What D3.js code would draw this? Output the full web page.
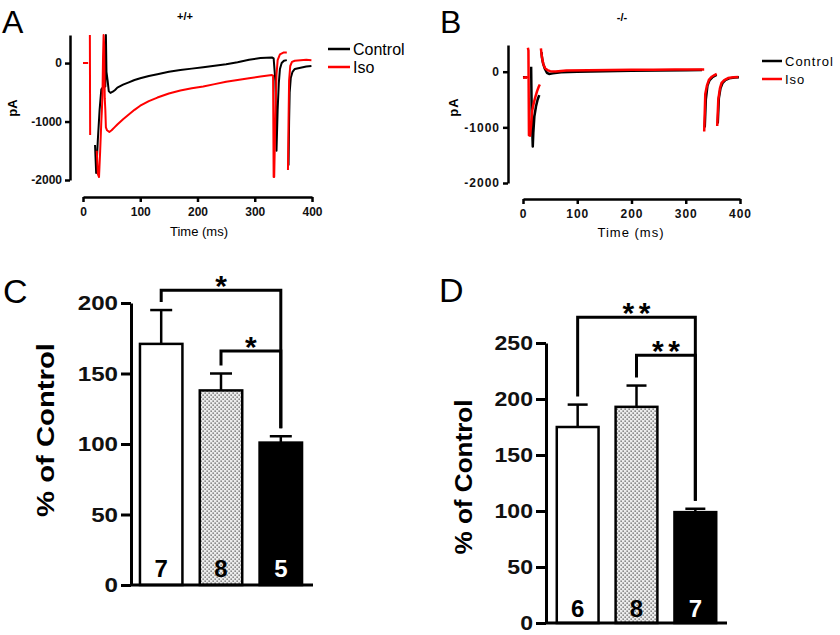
<!DOCTYPE html>
<html lang="en">
<head>
<meta charset="UTF-8">
<title>Iso effect on current</title>
<script src="https://d3js.org/d3.v7.min.js"></script>
<style>
    body { margin: 0; background: #fff; }
    svg { display: block; font-family: "Liberation Sans", Arial, sans-serif; }
</style>
</head>
<body>
<svg id="fig" width="840" height="635"></svg>
<script>

// ---- data ----
const timeTicks = [0, 100, 200, 300, 400];
const currentTicks = [0, -1000, -2000];
const legendLabels = ["Control", "Iso"];

// traces as [ms, pA]; null breaks the line between pieces
const wtControl = [
    [0, 0], [5, 0], null,
    [21, -1400], [23, -1880], [26, -1300], [29, -800], [32, -450], [36, -400], [39, -400],
    [40, 480], [41, -150], [43, -300], [45, -480], [48, -510], [52, -490], [56, -460],
    [60, -420], [70, -370], [80, -330], [90, -290], [100, -260], [115, -220], [130, -190],
    [150, -150], [170, -120], [190, -95], [210, -70], [230, -45], [250, -20], [270, 15],
    [290, 55], [310, 85], [330, 95], [333, 80], [336, -300], [338, -1500], [340, -800],
    [342, -350], [344, -100], [347, 0], [351, 40], [356, 50], null,
    [359, -1750], [360, -1000], [361, -500], [363, -250], [366, -150], [370, -100],
    [380, -80], [390, -60], [399, -50]
];
const wtIso = [
    [0, 0], [9, 0], null,
    [12, 480], [12.5, -1230], null,
    [24, -1500], [26, -1900], [28, -1950], [30, -1500], [32, -1000], [33, -800], [34, -550],
    [35, 100], [36, 480], [37, 300], [38, -600], [39, -800], [40, -1100], [42, -1150],
    [46, -1180], [50, -1150], [55, -1100], [60, -1050], [70, -960], [80, -880], [90, -800],
    [100, -730], [115, -650], [130, -590], [150, -520], [170, -470], [190, -430], [210, -400],
    [230, -360], [250, -320], [270, -290], [290, -260], [310, -230], [330, -205], [332, -215],
    [333, -1950], [334, -1950], [336, -900], [338, -200], [340, 50], [344, 150], [350, 180],
    [356, 180], null,
    [358, -1830], [359, -1000], [360, -300], [362, -50], [365, 20], [370, 40], [380, 50],
    [390, 55], [399, 50]
];
const koControl = [
    [0, -100], [8, -100], null,
    [15, 90], [16, -700], [18, -1345], [19, -1100], [21, -800], [24, -620], [27, -500], [30, -420], null,
    [34, 350], [35, 250], [37, 150], [40, 60], [44, -20], [48, -40], [55, -30], [70, -10],
    [100, 0], [150, 10], [200, 15], [250, 20], [300, 25], [330, 30], null,
    [335, -1000], [337, -500], [340, -250], [344, -150], [349, -100], [354, -70], [357, -55], null,
    [359, -930], [361, -480], [364, -300], [368, -200], [373, -150], [380, -120], [390, -105], [398, -100]
];
const koIso = [
    [0, -110], [6, -100], [8, -110], null,
    [9, 430], [10, 380], [11, -1140], [13, -1150], [15, -950], [17, -700], [19, -600],
    [22, -480], [26, -350], [29, -270], [31, -230], null,
    [33, 420], [34, 330], [36, 200], [38, 120], [41, 60], [45, 30], [50, 10], [60, 5],
    [80, 20], [120, 25], [160, 30], [200, 35], [240, 35], [280, 40], [320, 40], [334, 40], null,
    [334, -1075], [336, -400], [339, -250], [343, -140], [348, -90], [353, -60], [357, -40], null,
    [358, -975], [360, -500], [363, -300], [366, -200], [371, -150], [378, -115], [388, -100], [397, -95]
];

const barGroups = ["g1", "g2", "g3"];

const percentC = [171, 138, 101];
const semC = [24, 12, 4.5];
const nC = [7, 8, 5];
const ticksC = [0, 50, 100, 150, 200];
const sigC = [{ from: 0, to: 2, level: 209, text: "*" }, { from: 1, to: 2, level: 166, text: "*" }];

const percentD = [175, 193, 99];
const semD = [20, 19, 3];
const nD = [6, 8, 7];
const ticksD = [0, 50, 100, 150, 200, 250];
const sigD = [{ from: 0, to: 2, level: 273, text: "**" }, { from: 1, to: 2, level: 239, text: "**" }];

// ---- drawing ----
const svg = d3.select("#fig");

const defs = svg.append("defs");
const dots = defs.append("pattern").attr("id", "dots")
    .attr("width", 4).attr("height", 4).attr("patternUnits", "userSpaceOnUse");
dots.append("rect").attr("width", 4).attr("height", 4).attr("fill", "#ececec");
dots.append("rect").attr("x", 0.5).attr("y", 0.5).attr("width", 1.3).attr("height", 1.3).attr("fill", "#555");
dots.append("rect").attr("x", 2.5).attr("y", 2.5).attr("width", 1.3).attr("height", 1.3).attr("fill", "#555");

function stretch(sel, k) {
    sel.each(function () {
        var w = this.getComputedTextLength();
        d3.select(this).attr("textLength", w * k).attr("lengthAdjust", "spacingAndGlyphs");
    });
}

function tracePanel(o, control, iso) {
    var g = svg.append("g");
    var x = d3.scaleLinear().domain([0, 400]).range([o.x0, o.x1]);
    var y = d3.scaleLinear().domain([-2000, 480]).range([o.yBottom, o.yTop]);

    var yAxis = g.append("g")
        .attr("transform", "translate(" + o.yAxisX + ",0)")
        .call(d3.axisLeft(y).tickValues(currentTicks).tickSize(5).tickPadding(3)
            .tickSizeOuter(0).tickFormat(function (d) { return String(d); }));
    var xAxis = g.append("g")
        .attr("transform", "translate(0," + o.xAxisY + ")")
        .call(d3.axisBottom(x).tickValues(timeTicks).tickSize(5).tickPadding(5).tickSizeOuter(0));

    [yAxis, xAxis].forEach(function (a) {
        a.select(".domain").attr("stroke-width", 2.5);
        a.selectAll(".tick line").attr("stroke-width", 2.5);
        a.selectAll("text").attr("font-size", 12).attr("font-weight", "bold")
            .attr("font-family", null).attr("fill", "#111")
            .style("letter-spacing", o.spacing + "px");
    });

    var line = d3.line()
        .defined(function (d) { return d != null; })
        .x(function (d) { return x(d[0]); })
        .y(function (d) { return y(d[1]); });

    g.append("path").datum(control).attr("d", line)
        .attr("fill", "none").attr("stroke", "#000").attr("stroke-width", o.lw)
        .attr("stroke-linejoin", "round");
    g.append("path").datum(iso).attr("d", line)
        .attr("fill", "none").attr("stroke", "#ff0000").attr("stroke-width", o.lw)
        .attr("stroke-linejoin", "round");

    g.append("text").attr("x", o.timeX).attr("y", o.timeY)
        .attr("text-anchor", "middle").attr("font-size", 13)
        .style("letter-spacing", o.spacing + "px").text("Time (ms)");

    g.append("text")
        .attr("transform", "translate(" + o.paX + "," + o.paY + ") rotate(-90)")
        .attr("text-anchor", "middle").attr("font-size", 13).attr("font-weight", "bold")
        .style("letter-spacing", o.spacing + "px").text("pA");

    g.append("text").attr("x", o.geneX).attr("y", o.geneY)
        .attr("text-anchor", "middle").attr("font-size", 11).attr("font-weight", "bold")
        .text(o.gene);

    g.append("text").attr("x", o.letterX).attr("y", 33)
        .attr("font-size", 32).text(o.letter);

    var colors = ["#000", "#ff0000"];
    legendLabels.forEach(function (lab, i) {
        var ly = o.legY + i * 18;
        g.append("line").attr("x1", o.legX).attr("x2", o.legX + o.legW)
            .attr("y1", ly).attr("y2", ly)
            .attr("stroke", colors[i]).attr("stroke-width", 2.5);
        g.append("text").attr("x", o.legX + o.legW + 3).attr("y", ly).attr("dy", "0.35em")
            .attr("font-size", o.legFont).style("letter-spacing", o.spacing + "px").text(lab);
    });
}

function barPanel(o, means, sems, ns, ticks, sigs) {
    var g = svg.append("g");
    var x = d3.scaleBand().domain(barGroups).range([o.band0, o.band1])
        .paddingInner(0.29).paddingOuter(0.2);
    var y = d3.scaleLinear().domain([0, ticks[ticks.length - 1]]).range([o.yBottom, o.yTop]);
    var bw = x.bandwidth();
    var fills = ["#fff", "url(#dots)", "#000"];
    var labelFill = ["#000", "#000", "#fff"];

    var yAxis = g.append("g")
        .attr("transform", "translate(" + o.yAxisX + ",0)")
        .call(d3.axisLeft(y).tickValues(ticks).tickSize(10).tickPadding(3).tickSizeOuter(0));
    yAxis.select(".domain").attr("stroke-width", 3);
    yAxis.selectAll(".tick line").attr("stroke-width", 3);
    yAxis.selectAll("text").attr("font-size", 21).attr("font-weight", "bold")
        .attr("font-family", null).attr("fill", "#111");
    stretch(yAxis.selectAll("text"), o.tickStretch);

    // bars
    g.selectAll("rect.bar").data(means).enter().append("rect")
        .attr("class", "bar")
        .attr("x", function (d, i) { return x(barGroups[i]); })
        .attr("y", function (d) { return y(d); })
        .attr("width", bw)
        .attr("height", function (d) { return y(0) - y(d); })
        .attr("fill", function (d, i) { return fills[i]; })
        .attr("stroke", "#000").attr("stroke-width", 2.5);

    // error bars (upper only)
    means.forEach(function (m, i) {
        var cx = x(barGroups[i]) + bw / 2;
        g.append("line").attr("x1", cx).attr("x2", cx)
            .attr("y1", y(m)).attr("y2", y(m + sems[i]))
            .attr("stroke", "#000").attr("stroke-width", 2.5);
        g.append("line").attr("x1", cx - o.cap / 2).attr("x2", cx + o.cap / 2)
            .attr("y1", y(m + sems[i])).attr("y2", y(m + sems[i]))
            .attr("stroke", "#000").attr("stroke-width", 2.5);
        g.append("text").attr("x", cx).attr("y", o.nY)
            .attr("text-anchor", "middle").attr("font-size", 24).attr("font-weight", "bold")
            .attr("fill", labelFill[i]).text(ns[i]);
    });

    // x axis line
    g.append("line").attr("x1", o.yAxisX).attr("x2", o.xAxisEnd)
        .attr("y1", y(0)).attr("y2", y(0))
        .attr("stroke", "#000").attr("stroke-width", 3);

    // significance brackets
    sigs.forEach(function (s) {
        var xa = x(barGroups[s.from]) + bw / 2;
        var xb = x(barGroups[s.to]) + bw / 2;
        var ya = y(means[s.from] + sems[s.from]) - 8;
        var yb = y(means[s.to] + sems[s.to]) - 8;
        var yl = y(s.level);
        g.append("path")
            .attr("d", "M" + xa + "," + ya + "V" + yl + "H" + xb + "V" + yb)
            .attr("fill", "none").attr("stroke", "#000").attr("stroke-width", 3);
        var t = g.append("text").attr("x", (xa + xb) / 2).attr("y", yl + 6)
            .attr("text-anchor", "middle").attr("font-size", 30).attr("font-weight", "bold")
            .text(s.text);
        if (s.text.length > 1) t.attr("textLength", 28).attr("lengthAdjust", "spacing");
    });

    g.append("text")
        .attr("transform", "translate(" + o.labX + "," + o.labY + ") rotate(-90)")
        .attr("text-anchor", "middle").attr("font-size", 23).attr("font-weight", "bold")
        .attr("textLength", o.labLen).attr("lengthAdjust", "spacingAndGlyphs")
        .text("% of Control");

    g.append("text").attr("x", o.letterX).attr("y", o.letterY)
        .attr("font-size", 34).text(o.letter);
}

tracePanel({
    x0: 83, x1: 312, yTop: 35, yBottom: 180, yAxisX: 70, xAxisY: 197,
    lw: 2, spacing: 0, timeX: 199, timeY: 236, paX: 17, paY: 108,
    gene: "+/+", geneX: 185, geneY: 20, letter: "A", letterX: 2,
    legX: 328, legW: 22, legY: 49, legFont: 16
}, wtControl, wtIso);

tracePanel({
    x0: 523, x1: 740, yTop: 45, yBottom: 183, yAxisX: 508, xAxisY: 199,
    lw: 2.5, spacing: 1, timeX: 631, timeY: 237, paX: 458, paY: 107,
    gene: "-/-", geneX: 622, geneY: 21, letter: "B", letterX: 440,
    legX: 762, legW: 20, legY: 61, legFont: 13
}, koControl, koIso);

barPanel({
    band0: 128, band1: 314, yTop: 303, yBottom: 585, yAxisX: 131, xAxisEnd: 313,
    cap: 22, nY: 577, tickStretch: 1.15, labX: 54, labY: 430, labLen: 174,
    letter: "C", letterX: 3, letterY: 303
}, percentC, semC, nC, ticksC, sigC);

barPanel({
    band0: 545, band1: 728, yTop: 343, yBottom: 623, yAxisX: 546, xAxisEnd: 727,
    cap: 20, nY: 617, tickStretch: 1.1, labX: 472, labY: 477, labLen: 155,
    letter: "D", letterX: 439, letterY: 302
}, percentD, semD, nD, ticksD, sigD);

</script>
</body>
</html>
